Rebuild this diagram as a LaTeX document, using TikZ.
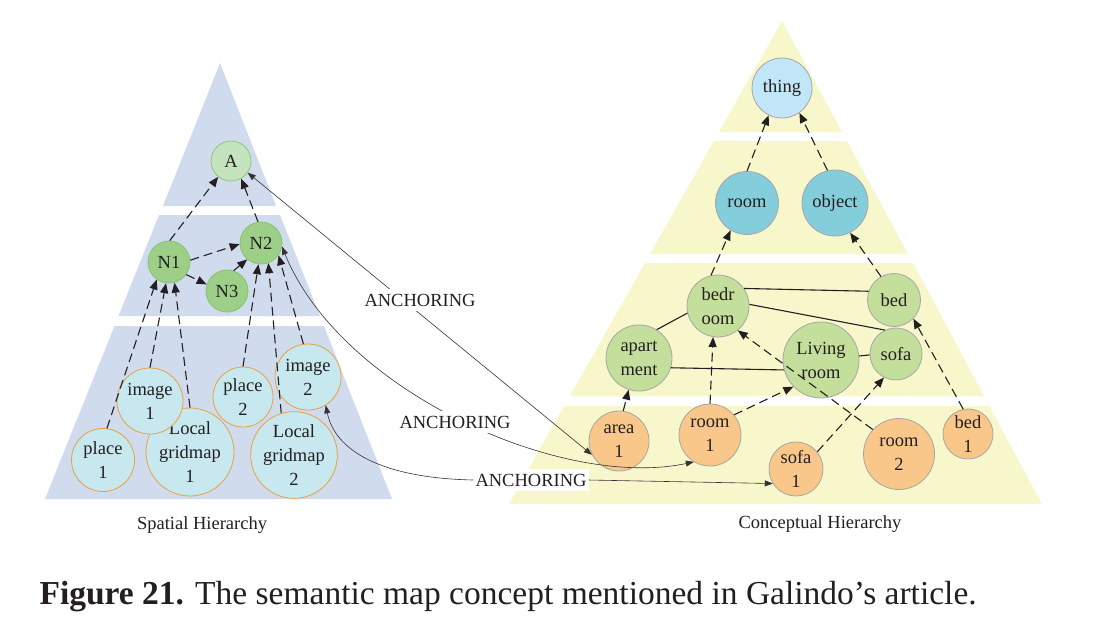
\documentclass[tikz,border=0pt]{standalone}
\usepackage{fontspec}
\setmainfont{Liberation Serif}
\usetikzlibrary{arrows.meta}
\definecolor{pyrblue}{HTML}{D0DBEE}
\definecolor{pyryel}{HTML}{F8F7CB}
\definecolor{txt}{HTML}{231F20}
\definecolor{agreenf}{HTML}{C6E3BF}
\definecolor{agreend}{HTML}{8CC878}
\definecolor{ngreenf}{HTML}{9DCF88}
\definecolor{ngreend}{HTML}{86C46E}
\definecolor{lbluef}{HTML}{C8E8EF}
\definecolor{orangeb}{HTML}{E8A23C}
\definecolor{thingf}{HTML}{C1E6F7}
\definecolor{tealf}{HTML}{84CEDB}
\definecolor{cgreenf}{HTML}{C4DE9C}
\definecolor{corangef}{HTML}{F9C78A}
\definecolor{cborder}{HTML}{A6A6A6}
\begin{document}
\begin{tikzpicture}[x=1pt,y=-1pt,
  every node/.style={font=\fontsize{18.5}{24}\selectfont, text=txt},
  circ/.style={circle, draw, line width=0.8pt, inner sep=0pt, align=center},
  agreen/.style={circ, fill=agreenf, draw=agreend},
  ngreen/.style={circ, fill=ngreenf, draw=ngreend},
  lblue/.style={circ, fill=lbluef, draw=orangeb},
  thingst/.style={circ, fill=thingf, draw=cborder},
  teal/.style={circ, fill=tealf, draw=cborder},
  cgreen/.style={circ, fill=cgreenf, draw=cborder},
  corange/.style={circ, fill=corangef, draw=cborder},
  dasharr/.style={line width=1.1pt, draw=txt, dash pattern=on 9pt off 5pt, -{Triangle[length=10pt,width=8pt]}},
  solidln/.style={line width=1.1pt, draw=txt},
  anch/.style={line width=0.6pt, draw=black!80, {Triangle[length=8pt,width=6pt]}-{Triangle[length=8pt,width=6pt]}},
  anchs/.style={line width=0.6pt, draw=black!80},
  lab/.style={fill=white, inner sep=2pt, minimum height=22pt}
]
\fill[white] (0,0) rectangle (1094,622);
\useasboundingbox (0,0) rectangle (1094,622);

% spatial pyramid
\fill[pyrblue] (220,63) -- (276,206) -- (163,206) -- cycle;
\fill[pyrblue] (159,215) -- (280,215) -- (320,316) -- (118.5,316) -- cycle;
\fill[pyrblue] (114.5,326) -- (324,326) -- (392,499) -- (45,499) -- cycle;

% conceptual pyramid
\fill[pyryel] (782,21) -- (842,132) -- (719,132) -- cycle;
\fill[pyryel] (714,141) -- (847,141) -- (908,254) -- (650,254) -- cycle;
\fill[pyryel] (645,263) -- (913,263) -- (984,396) -- (570,396) -- cycle;
\fill[pyryel] (564,406) -- (989,406) -- (1042,504) -- (509,504) -- cycle;

% spatial nodes
\node[agreen, minimum size=40pt] (A) at (231,161) {A};
\node[ngreen, minimum size=42pt] (N1) at (169,262) {N1};
\node[ngreen, minimum size=42pt] (N2) at (261,243) {N2};
\node[ngreen, minimum size=42pt] (N3) at (227,291) {N3};
\node[lblue, minimum size=63pt] (place1) at (103,460) {place\\1};
\node[lblue, minimum size=88pt] (grid1) at (190,452) {Local\\gridmap\\1};
\node[lblue, minimum size=66pt] (image1) at (150,401) {image\\1};
\node[lblue, minimum size=86pt] (grid2) at (294,455) {Local\\gridmap\\2};
\node[lblue, minimum size=60pt] (place2) at (243,397) {place\\2};
\node[lblue, minimum size=66pt] (image2) at (308,377) {image\\2};

% conceptual nodes
\node[thingst, minimum size=60pt] (thing) at (782,88) {thing};
\node[teal, minimum size=63pt] (croom) at (747,203) {room};
\node[teal, minimum size=66pt] (object) at (835,203) {object};
\node[cgreen, minimum size=62pt] (bedroom) at (718,306) {bedr\\oom};
\node[cgreen, minimum size=53pt] (cbed) at (894,300) {bed};
\node[cgreen, minimum size=66pt] (apart) at (639,358) {apart\\ment};
\node[cgreen, minimum size=76pt] (living) at (821,360) {Living\\room};
\node[cgreen, minimum size=52pt] (csofa) at (896,354) {sofa};
\node[corange, minimum size=60pt] (area1) at (619,441) {area\\1};
\node[corange, minimum size=62pt] (room1) at (710,435) {room\\1};
\node[corange, minimum size=54pt] (sofa1) at (796,469) {sofa\\1};
\node[corange, minimum size=71pt] (room2) at (899,454) {room\\2};
\node[corange, minimum size=50pt] (bed1) at (968,434) {bed\\1};

% spatial edges
\draw[dasharr] (N1.88) -- (A.231);
\draw[dasharr] (N2.98) -- (A.300);
\draw[dasharr] (N1.5) -- (N2.183);
\draw[dasharr] (N1.-36) -- (N3.162);
\draw[dasharr] (N3.72) -- (N2.230);
\draw[dasharr] (place1.83) -- (N1.235);
\draw[dasharr] (image1.90) -- (N1.262);
\draw[dasharr] (grid1.90) -- (N1.285);
\draw[dasharr] (place2.90) -- (N2.263);
\draw[dasharr] (grid2.107) -- (N2.290);
\draw[dasharr] (image2.98) -- (N2.325);

% conceptual edges
\draw[dasharr] (croom.90) -- (thing.244);
\draw[dasharr] (object.103) -- (thing.305);
\draw[dasharr] (bedroom.103) -- (croom.239);
\draw[dasharr] (cbed.119) -- (object.297);
\draw[solidln] (bedroom.34) -- (cbed.161);
\draw[solidln] (bedroom.3) -- (csofa.115);
\draw[solidln] (apart.58) -- (bedroom.193);
\draw[solidln] (apart.-17) -- (living.195);
\draw[solidln] (living.6) -- (csofa.182);
\draw[dasharr] (area1.82) -- (apart.252);
\draw[dasharr] (room1.90) -- (bedroom.261);
\draw[dasharr] (room1.40) -- (living.224);
\draw[dasharr] (room2.137) -- (bedroom.309);
\draw[dasharr] (sofa1.39) -- (csofa.243);
\draw[dasharr] (bed1.101) -- (cbed.316);

% anchoring
\draw[anch] (A.325) -- (area1.207);
\node[lab] (L1) at (420,300) {ANCHORING};
\draw[anch] (N2.350) .. controls (340,390) and (560,490) .. (room1.239);
\node[lab] (L2) at (455,422) {ANCHORING};
\node[lab] (L3) at (531,480) {ANCHORING};
\draw[anchs, {Triangle[length=8pt,width=6pt]}-] (image2.302) .. controls (335,450) and (380,478) .. (L3.west);
\draw[anchs, -{Triangle[length=8pt,width=6pt]}] (L3.east) -- (sofa1.212);

% titles
\node (sh) at (202,525) {Spatial Hierarchy};
\node (ch) at (820,524) {Conceptual Hierarchy};
\node[anchor=base west, font=\fontsize{33.5}{38}\selectfont] (cap) at (36,604) {\textbf{Figure 21.} The semantic map concept mentioned in Galindo’s article.};
\end{tikzpicture}
\end{document}
